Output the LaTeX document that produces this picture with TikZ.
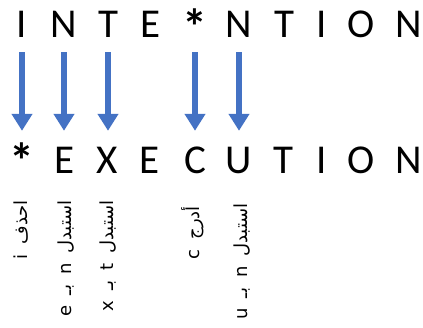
\documentclass[tikz,border=0pt]{standalone}
\usepackage{fontspec}
\setmainfont{Carlito}
\newfontfamily\arabicfont[Script=Arabic]{DejaVu Sans}
\TeXXeTstate=1
\usetikzlibrary{arrows.meta}
\definecolor{arrblue}{RGB}{68,114,196}
\newcommand{\gap}{\hspace{0.55em}}
\tikzset{
  letter/.style={inner sep=0pt, anchor=base, text height=26pt, text depth=0pt,
    font=\fontsize{41}{44}\selectfont},
  star/.style={letter, font=\fontsize{50}{52}\selectfont\bfseries},
  bigarrow/.style={arrblue, line width=6pt, -{Triangle[width=20pt,length=17pt]}, shorten <=15pt, shorten >=16pt},
  oplabel/.style={rotate=90, anchor=east, inner sep=0pt, font=\arabicfont\fontsize{18}{20}\selectfont}
}
\begin{document}
\begin{tikzpicture}[x=1pt,y=-1pt]
\useasboundingbox (0,0) rectangle (423,327);
% top row
\node[letter] (t1) at (22,37) {I};
\node[letter] (t2) at (64,37) {N};
\node[letter] (t3) at (108,37) {T};
\node[letter] (t4) at (151,37) {E};
\node[star] (t5) at (195,44) {*};
\node[letter] (t6) at (239,37) {N};
\node[letter] (t7) at (284,37) {T};
\node[letter] (t8) at (322,37) {I};
\node[letter] (t9) at (361,37) {O};
\node[letter] (t10) at (409,37) {N};
% bottom row
\node[star] (b1) at (22,178) {*};
\node[letter] (b2) at (65,173) {E};
\node[letter] (b3) at (107,173) {X};
\node[letter] (b4) at (150,173) {E};
\node[letter] (b5) at (195,173) {C};
\node[letter] (b6) at (239,173) {U};
\node[letter] (b7) at (283,173) {T};
\node[letter] (b8) at (322,173) {I};
\node[letter] (b9) at (361,173) {O};
\node[letter] (b10) at (409,173) {N};
% arrows
\draw[bigarrow] (t1.south) -- (t1.south |- b2.north);
\draw[bigarrow] (t2.south) -- (t2.south |- b2.north);
\draw[bigarrow] (t3.south) -- (t3.south |- b2.north);
\draw[bigarrow] (t5.south |- t4.south) -- (t5.south |- b2.north);
\draw[bigarrow] (t6.south) -- (t6.south |- b2.north);
% labels
\node[oplabel] (l1) at (21,200) {\beginR احذف\gap i\endR};
\node[oplabel] (l2) at (66,200) {\beginR استبدل\gap n\gap بـ\gap e\endR};
\node[oplabel] (l3) at (108,200) {\beginR استبدل\gap t\gap بـ\gap x\endR};
\node[oplabel] (l4) at (193,206) {\beginR أدرج\gap c\endR};
\node[oplabel] (l5) at (242,203) {\beginR استبدل\gap n\gap بـ\gap u\endR};
\end{tikzpicture}
\end{document}
